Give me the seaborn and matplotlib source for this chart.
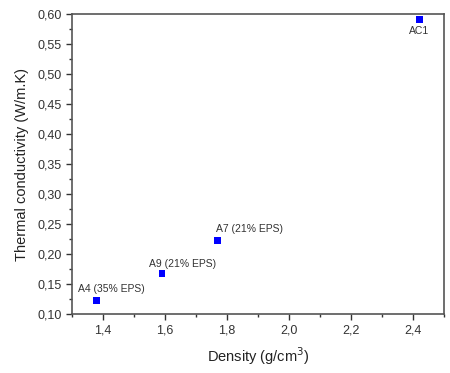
import matplotlib
matplotlib.use("Agg")
import matplotlib.pyplot as plt
import seaborn as sns
import pandas as pd
from matplotlib.ticker import MultipleLocator, FuncFormatter

samples = ["A4 (35% EPS)", "A9 (21% EPS)", "A7 (21% EPS)", "AC1"]
density = [1.38, 1.59, 1.77, 2.42]
conductivity = [0.122, 0.167, 0.223, 0.591]

df = pd.DataFrame({"sample": samples, "density": density, "k": conductivity})

# label offsets in pixels (layout only)
label_offsets = [(-19, 7), (-13, 5), (-2, 6), (0, -6)]

sns.set_theme(style="white")
plt.rcParams['font.family'] = ['Liberation Sans', 'DejaVu Sans']

fig = plt.figure(figsize=(4.5, 3.73), dpi=100)
ax = fig.add_axes([0.16, 0.158, 0.827, 0.804])

sns.scatterplot(data=df, x="density", y="k", ax=ax, marker="s", s=24,
                color="#0000ff", edgecolor="none", legend=False, zorder=3)

ax.set_xlim(1.3, 2.5)
ax.set_ylim(0.10, 0.60)
ax.xaxis.set_major_locator(MultipleLocator(0.2))
ax.xaxis.set_minor_locator(MultipleLocator(0.1))
ax.yaxis.set_major_locator(MultipleLocator(0.05))
ax.yaxis.set_minor_locator(MultipleLocator(0.025))
ax.xaxis.set_major_formatter(FuncFormatter(lambda v, p: f"{v:.1f}".replace(".", ",")))
ax.yaxis.set_major_formatter(FuncFormatter(lambda v, p: f"{v:.2f}".replace(".", ",")))

ax.tick_params(axis="both", which="major", direction="out", length=4, width=1,
               labelsize=9, colors="#333333", bottom=True, left=True, top=False, right=False)
ax.tick_params(axis="both", which="minor", direction="out", length=2, width=1,
               colors="#333333", bottom=True, left=True, top=False, right=False)
for s in ax.spines.values():
    s.set_color("#555555")
    s.set_linewidth(1.2)

ax.set_xlabel("Density (g/cm$^3$)", fontsize=10.5, color="#222222", labelpad=6)
ax.set_ylabel("Thermal conductivity (W/m.K)", fontsize=10.5, color="#222222", labelpad=6)

for name, x, y, (dx, dy) in zip(samples, density, conductivity, label_offsets):
    if name == "AC1":
        ax.annotate(name, (x, y), xytext=(dx * 0.72, dy * 0.72), textcoords="offset points",
                    ha="center", va="top", fontsize=7.5, color="#333333")
    else:
        ax.annotate(name, (x, y), xytext=(dx * 0.72, dy * 0.72), textcoords="offset points",
                    ha="left", va="bottom", fontsize=7.5, color="#333333")

fig.savefig("out.png", dpi=100)
